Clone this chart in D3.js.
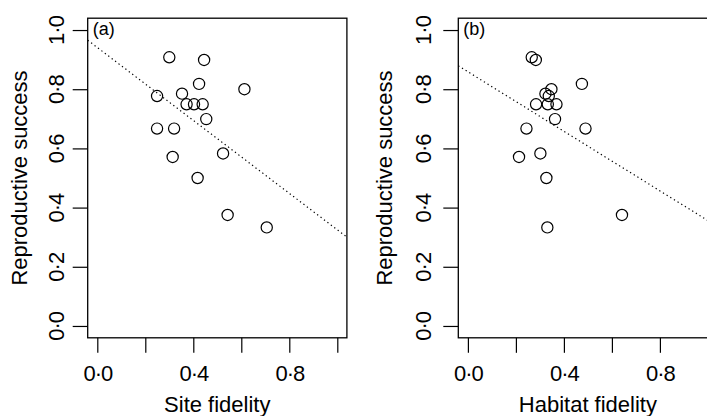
<!DOCTYPE html>
<html><head><meta charset="utf-8">
<script src="https://cdn.jsdelivr.net/npm/d3@7"></script>
<style>
body{margin:0;background:#fff;}
svg{display:block;}
text{font-family:"Liberation Sans",Arial,sans-serif;fill:#000;}
</style></head>
<body><svg id="chart" width="707" height="416"></svg>
<script>
// Panel (a): site fidelity vs reproductive success
const siteFidelity = [0.300,0.445,0.424,0.613,0.249,0.353,0.372,0.403,0.439,0.454,0.249,0.320,0.314,0.524,0.418,0.543,0.706];
const successA     = [0.908,0.899,0.818,0.800,0.777,0.785,0.749,0.749,0.749,0.699,0.667,0.667,0.571,0.583,0.500,0.375,0.333];
// Panel (b): habitat fidelity vs reproductive success
const habitatFidelity = [0.266,0.283,0.475,0.348,0.323,0.337,0.284,0.333,0.369,0.363,0.244,0.490,0.213,0.302,0.327,0.642,0.331];
const successB        = [0.908,0.899,0.818,0.800,0.785,0.777,0.749,0.749,0.749,0.699,0.667,0.667,0.571,0.583,0.500,0.375,0.333];
// fitted lines [intercept, slope]
const fitA = [0.941, -0.616];
const fitB = [0.859, -0.503];
const xTicks = [0,0.2,0.4,0.6,0.8,1.0];
const xTickLabels = ["0·0","","0·4","","0·8",""];
const yTicks = [0,0.2,0.4,0.6,0.8,1.0];
const yTickLabels = ["0·0","0·2","0·4","0·6","0·8","1·0"];
const panels = [
  {tag:"(a)", xs:siteFidelity, ys:successA, fit:fitA, xlab:"Site fidelity", left:87.7, ylabOff:24, ytitleX:26.5},
  {tag:"(b)", xs:habitatFidelity, ys:successB, fit:fitB, xlab:"Habitat fidelity", left:458.3, ylabOff:27, ytitleX:391.5}
];

const svg = d3.select("#chart");
const W = 259.2, plotTop = 18.2, plotBottom = 337.8;
const FS = 22;

panels.forEach((p,i)=>{
  const x = d3.scaleLinear().domain([-0.04,1.04]).range([p.left, p.left+W]);
  const y = d3.scaleLinear().domain([-0.04,1.04]).range([plotBottom, plotTop]);
  const g = svg.append("g");
  const cid = "clip"+i;
  svg.append("clipPath").attr("id",cid).append("rect")
    .attr("x",p.left).attr("y",plotTop).attr("width",W).attr("height",plotBottom-plotTop);

  // x axis
  const xa = g.append("g").attr("transform",`translate(0,${plotBottom})`)
    .call(d3.axisBottom(x).tickValues(xTicks).tickSize(15).tickFormat((d,j)=>xTickLabels[j]));
  xa.select(".domain").remove();
  xa.selectAll("line").attr("stroke","#000").attr("stroke-width",1.2);
  xa.selectAll("text").attr("y",43.5).attr("dy",0).style("font-size",FS+"px").style("letter-spacing","-1px");

  // y axis
  const ya = g.append("g").attr("transform",`translate(${p.left},0)`)
    .call(d3.axisLeft(y).tickValues(yTicks).tickSize(15).tickFormat((d,j)=>yTickLabels[j]));
  ya.select(".domain").remove();
  ya.selectAll("line").attr("stroke","#000").attr("stroke-width",1.2);
  ya.selectAll("text").attr("x",0).attr("dy",0).attr("text-anchor","middle")
    .attr("transform",`translate(${-p.ylabOff},0) rotate(-90)`).style("font-size",FS+"px").style("letter-spacing","-1px");

  // box
  g.append("rect").attr("x",p.left).attr("y",plotTop).attr("width",W).attr("height",plotBottom-plotTop)
    .attr("fill","none").attr("stroke","#000").attr("stroke-width",1.3);

  // fitted line
  const xd = x.domain();
  g.append("line").attr("clip-path",`url(#${cid})`)
    .attr("x1",x(xd[0])).attr("y1",y(p.fit[0]+p.fit[1]*xd[0]))
    .attr("x2",x(xd[1])).attr("y2",y(p.fit[0]+p.fit[1]*xd[1]))
    .attr("stroke","#000").attr("stroke-width",1.2).attr("stroke-dasharray","1.3,3");

  // points
  g.selectAll("circle.pt").data(p.xs.map((v,j)=>[v,p.ys[j]])).enter().append("circle")
    .attr("cx",d=>x(d[0])).attr("cy",d=>y(d[1])).attr("r",5.6)
    .attr("fill","none").attr("stroke","#000").attr("stroke-width",1.2);

  // panel tag
  g.append("text").attr("x",p.left+5).attr("y",34.5).style("font-size","18px").text(p.tag);

  // axis titles
  g.append("text").attr("x",p.left+W/2).attr("y",411.5).attr("text-anchor","middle")
    .style("font-size",FS+"px").text(p.xlab);
  g.append("text").attr("transform",`translate(${p.ytitleX},${(plotTop+plotBottom)/2}) rotate(-90)`)
    .attr("text-anchor","middle").style("font-size",FS+"px").text("Reproductive success");
});
</script></body></html>
